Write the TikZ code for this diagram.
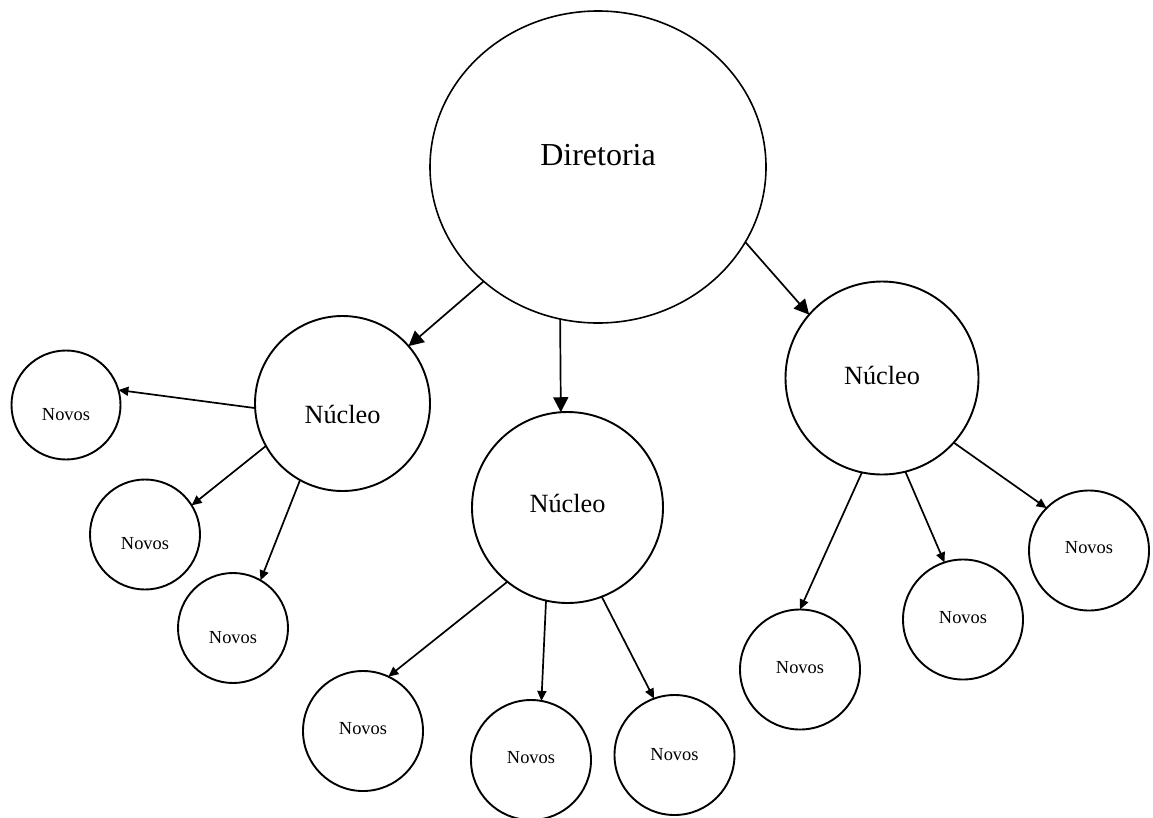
\documentclass[tikz,border=0pt]{standalone}
\usepackage{fontspec}
\setmainfont{Liberation Serif}
\usetikzlibrary{shapes.geometric,arrows.meta}
\begin{document}
\begin{tikzpicture}[x=1pt,y=-1pt,
  bigtxt/.style={font=\fontsize{32}{38}\selectfont},
  midtxt/.style={font=\fontsize{26.3}{31}\selectfont},
  smalltxt/.style={font=\fontsize{18.4}{22}\selectfont},
  dirbox/.style={ellipse,draw,line width=1.6pt,inner sep=0pt,outer sep=0pt,minimum width=336pt,minimum height=312pt},
  nucbox/.style={circle,draw,line width=1.9pt,inner sep=0pt,outer sep=0pt,minimum size=#1},
  novbox/.style={circle,draw,line width=1.9pt,inner sep=0pt,outer sep=0pt,minimum size=#1},
  bigarrow/.style={line width=1.7pt,-{Triangle[length=15pt,width=15pt]}},
  smallarrow/.style={line width=1.7pt,-{Triangle[length=10pt,width=9pt]}}
]
\useasboundingbox (0,0) rectangle (1153,817);
% top
\node[dirbox,label={[bigtxt,yshift=12pt]center:Diretoria}] (D) at (598,167) {};
% nucleos
\node[nucbox=175pt,label={[midtxt,yshift=-10.5pt]center:Núcleo}] (NL) at (342.5,403.5) {};
\node[nucbox=191pt,label={[midtxt,yshift=4.5pt]center:Núcleo}] (NM) at (567.5,507.5) {};
\node[nucbox=193pt,label={[midtxt,yshift=3pt]center:Núcleo}] (NR) at (882,378) {};
% novos left
\node[novbox=109pt,label={[smalltxt,yshift=-10pt]center:Novos}] (A1) at (66,405) {};
\node[novbox=110pt,label={[smalltxt,yshift=-9.5pt]center:Novos}] (A2) at (145,534.5) {};
\node[novbox=110pt,label={[smalltxt,yshift=-10pt]center:Novos}] (A3) at (233,628) {};
% novos middle
\node[novbox=120pt,label={[smalltxt,yshift=2pt]center:Novos}] (B1) at (363,731) {};
\node[novbox=120pt,label={[smalltxt,yshift=2pt]center:Novos}] (B2) at (531,760) {};
\node[novbox=120pt,label={[smalltxt,yshift=0pt]center:Novos}] (B3) at (674.5,755) {};
% novos right
\node[novbox=120pt,label={[smalltxt,yshift=1.5pt]center:Novos}] (C1) at (800,669.5) {};
\node[novbox=120pt,label={[smalltxt,yshift=1.5pt]center:Novos}] (C2) at (963,619.5) {};
\node[novbox=120pt,label={[smalltxt,yshift=2.5pt]center:Novos}] (C3) at (1089,550.5) {};
% arrows from Diretoria
\draw[bigarrow] (D.225) -- (NL.41);
\draw[bigarrow] (D.256) -- (NM.94);
\draw[bigarrow] (D.333) -- (NR.139.5);
% arrows from left nucleo
\draw[smallarrow] (NL.183.6) -- (A1.16.5);
\draw[smallarrow] (NL.209.8) -- (A2.32.4);
\draw[smallarrow] (NL.241.9) -- (A3.60.6);
% arrows from middle nucleo
\draw[smallarrow] (NM.231.3) -- (B1.65.1);
\draw[smallarrow] (NM.257.9) -- (B2.80.5);
\draw[smallarrow] (NM.291.4) -- (B3.110.4);
% arrows from right nucleo
\draw[smallarrow] (NR.258.1) -- (C1.90);
\draw[smallarrow] (NR.284.6) -- (C2.108.6);
\draw[smallarrow] (NR.318.4) -- (C3.135.3);
\end{tikzpicture}
\end{document}
